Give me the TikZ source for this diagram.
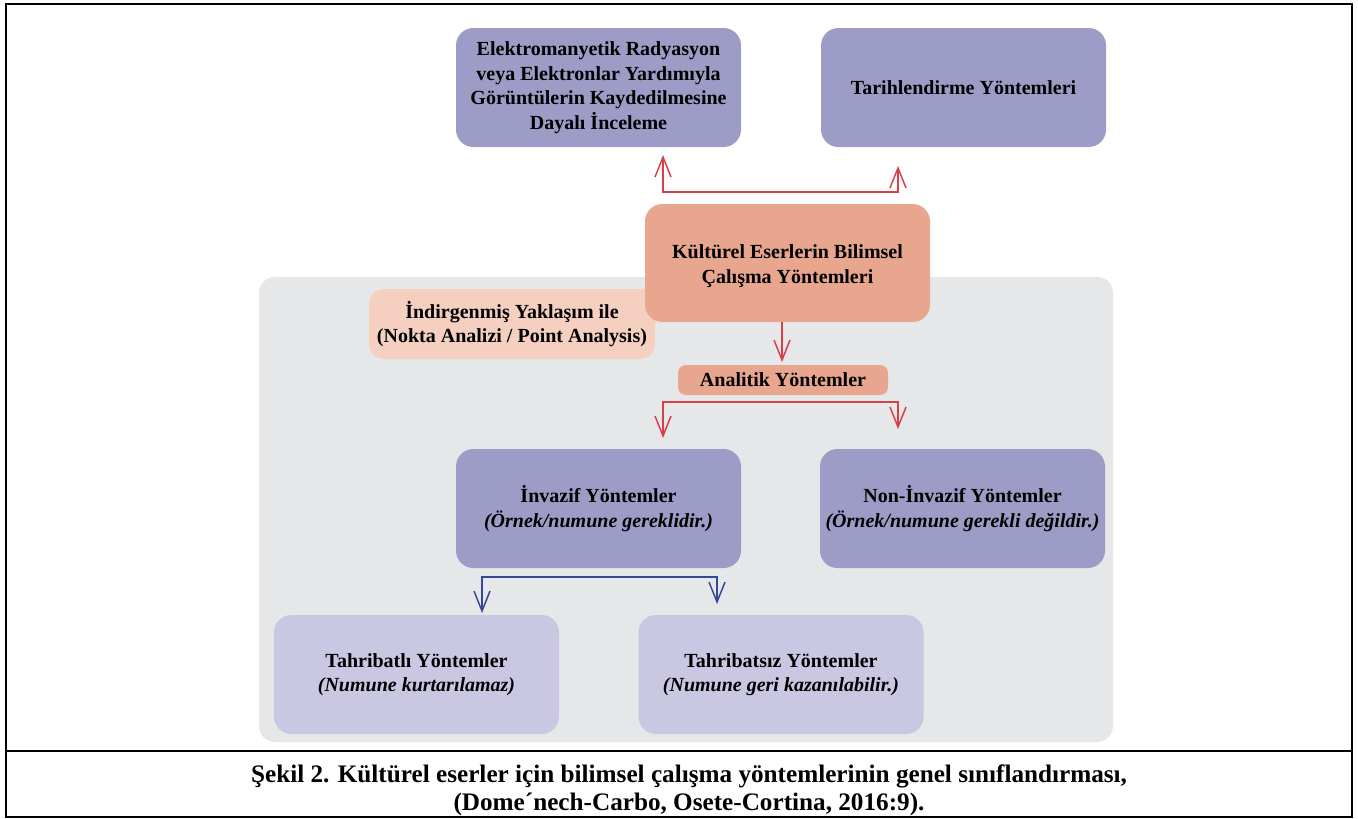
\documentclass[tikz,border=0pt]{standalone}
\usepackage{fontspec}
\setmainfont{Liberation Serif}
\usetikzlibrary{arrows.meta}
\definecolor{purp}{RGB}{157,156,199}
\definecolor{lav}{RGB}{201,199,225}
\definecolor{orng}{RGB}{233,166,142}
\definecolor{peach}{RGB}{245,207,192}
\definecolor{bggray}{RGB}{230,231,233}
\definecolor{redarr}{RGB}{218,62,72}
\definecolor{bluearr}{RGB}{52,72,150}
\tikzset{
  box/.style={rounded corners=13pt, minimum width=213.75pt, minimum height=89.25pt,
    align=center, inner sep=2pt, font=\fontsize{15}{18.4}\selectfont\bfseries, text=black},
  purpbox/.style={box, fill=purp},
  lavbox/.style={box, fill=lav},
  redcon/.style={draw=redarr, line width=1.1pt, {Straight Barb[length=15pt,width=12pt]}-{Straight Barb[length=15pt,width=12pt]}},
  redone/.style={draw=redarr, line width=1.1pt, -{Straight Barb[length=15pt,width=12pt]}},
  bluecon/.style={draw=bluearr, line width=1.1pt, {Straight Barb[length=15pt,width=12pt]}-{Straight Barb[length=15pt,width=12pt]}},
}
\begin{document}
\begin{tikzpicture}[x=0.75pt,y=-0.75pt]
\useasboundingbox (0,0) rectangle (1358,818);
% frame
\draw[line width=1.5pt] (5.5,3.5) rectangle (1351.5,816.5);
\draw[line width=1.5pt] (5.5,750.5) -- (1351.5,750.5);
% gray background
\fill[bggray, rounded corners=12pt] (259,277) rectangle (1113,742);
% top boxes
\node[purpbox] (em) at (598.5,87.5) {Elektromanyetik Radyasyon\\veya Elektronlar Yardımıyla\\Görüntülerin Kaydedilmesine\\Dayalı İnceleme};
\node[purpbox] (tarih) at (963.5,87.5) {Tarihlendirme Yöntemleri};
% peach box (behind orange)
\node[box, fill=peach, minimum width=214.5pt, minimum height=52.5pt, rounded corners=11pt] (indirg) at (512,324) {İndirgenmiş Yaklaşım ile\\(Nokta Analizi / Point Analysis)};
\node[box, fill=orng, minimum height=88.5pt] (kultur) at (787.5,263) {};
\node (kulturtext) at (787.5,266) [font=\fontsize{15}{18.4}\selectfont\bfseries, align=center] {Kültürel Eserlerin Bilimsel\\Çalışma Yöntemleri};
\node[box, fill=orng, minimum width=157.5pt, minimum height=22.5pt, rounded corners=6pt] (analitik) at (783,380) {Analitik Yöntemler};
\node[purpbox] (invazif) at (598.5,508.5) {İnvazif Yöntemler\\\textit{(Örnek/numune gereklidir.)}};
\node[purpbox] (noninv) at (962.5,508.5) {Non-İnvazif Yöntemler\\\textit{(Örnek/numune gerekli değildir.)}};
\node[lavbox] (tahli) at (416.5,674.5) {Tahribatlı Yöntemler\\\textit{(Numune kurtarılamaz)}};
\node[lavbox] (tahsiz) at (781,674.5) {Tahribatsız Yöntemler\\\textit{(Numune geri kazanılabilir.)}};
% connectors
\coordinate (t1) at (663,155);
\coordinate (t2) at (898,166);
\coordinate (h1) at (898,192);
\draw[redcon] (t1) |- (h1) -- (t2);
\coordinate (d1) at (782,362);
\draw[redone] (kultur.south -| d1) -- (d1);
\coordinate (t3) at (663,438);
\coordinate (t4) at (898,429);
\coordinate (h2) at (898,402);
\draw[redcon] (t3) |- (h2) -- (t4);
\coordinate (t5) at (482,613);
\coordinate (t6) at (717,604);
\coordinate (h3) at (717,577);
\draw[bluecon] (t5) |- (h3) -- (t6);
% caption
\node[font=\fontsize{18.9}{21}\selectfont\bfseries, align=center] (cap) at (689,790) {Şekil 2. Kültürel eserler için bilimsel çalışma yöntemlerinin genel sınıflandırması,\\(Dome´nech-Carbo, Osete-Cortina, 2016:9).};
\end{tikzpicture}
\end{document}
